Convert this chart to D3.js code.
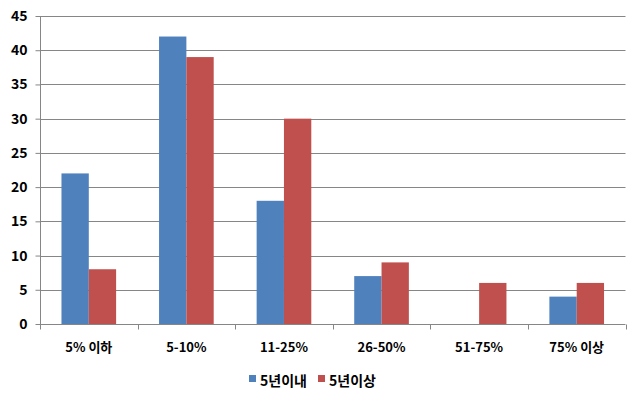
<!DOCTYPE html>
<html><head><meta charset="utf-8">
<script src="https://cdn.jsdelivr.net/npm/d3@7"></script>
<style>body{margin:0;background:#fff}svg{display:block}text{font-family:"Noto Sans CJK KR","Malgun Gothic",sans-serif;font-weight:bold;fill:#000}</style>
</head><body><svg id="c" width="640" height="406"></svg>
<script>
const categories = ["5% 이하", "5-10%", "11-25%", "26-50%", "51-75%", "75% 이상"];
const seriesNames = ["5년이내", "5년이상"];
const within5 = [22, 42, 18, 7, 0, 4];
const over5 = [8, 39, 30, 9, 6, 6];
const yTicks = [0, 5, 10, 15, 20, 25, 30, 35, 40, 45];
const colors = ["#4F81BD", "#C0504D"];

const svg = d3.select("#c");
const L = 40, R = 625.5, T = 16, B = 324;
const x = d3.scaleBand().domain(categories).range([L, R]).paddingInner(0.44).paddingOuter(0.22);
const x1 = d3.scaleBand().domain(seriesNames).range([0, x.bandwidth()]);
const y = d3.scaleLinear().domain([0, 45]).range([B, T]);

// gridlines
svg.append("g").selectAll("line").data(yTicks.filter(d => d > 0)).join("line")
  .attr("x1", L).attr("x2", R).attr("y1", d => Math.round(y(d)) + 0.5).attr("y2", d => Math.round(y(d)) + 0.5)
  .attr("stroke", "#868686").attr("stroke-width", 1);

// bars
const data = [within5, over5];
categories.forEach((c, i) => {
  seriesNames.forEach((s, j) => {
    const v = data[j][i];
    if (v > 0) svg.append("rect")
      .attr("x", x(c) + x1(s)).attr("width", x1.bandwidth())
      .attr("y", y(v)).attr("height", y(0) - y(v)).attr("fill", colors[j]);
  });
});

// y axis
const ya = svg.append("g").attr("transform", `translate(${L + 0.5},0)`)
  .call(d3.axisLeft(y).tickValues(yTicks).tickSize(5).tickPadding(8));
ya.select(".domain").attr("stroke", "#868686").attr("d", `M0,${T}V${B}`);
ya.selectAll(".tick line").attr("stroke", "#868686");
ya.selectAll(".tick text").style("font-size", "14px").attr("fill", "#000");

// x axis
const xa = svg.append("g").attr("transform", `translate(0,${B + 0.5})`);
xa.append("line").attr("x1", L).attr("x2", R).attr("stroke", "#868686");
const edges = categories.map(c => x(c) - x.step() * x.paddingInner() / 2).concat([R]);
xa.selectAll(".t").data(edges).join("line").attr("class", "t")
  .attr("x1", d => Math.round(d) + 0.5).attr("x2", d => Math.round(d) + 0.5).attr("y1", 0).attr("y2", 5)
  .attr("stroke", "#868686");
xa.selectAll("text").data(categories).join("text")
  .attr("x", d => x(d) + x.bandwidth() / 2).attr("y", 27)
  .attr("text-anchor", "middle").style("font-size", "13px").text(d => d);

// legend
const lg = svg.append("g").attr("transform", "translate(0,381)");
const lx = [249, 318];
seriesNames.forEach((s, j) => {
  lg.append("rect").attr("x", lx[j]).attr("y", -6).attr("width", 7).attr("height", 7).attr("fill", colors[j]);
  lg.append("text").attr("x", lx[j] + 11).attr("y", 0).attr("dy", "0.35em").style("font-size", "14px").text(s);
});
</script></body></html>
